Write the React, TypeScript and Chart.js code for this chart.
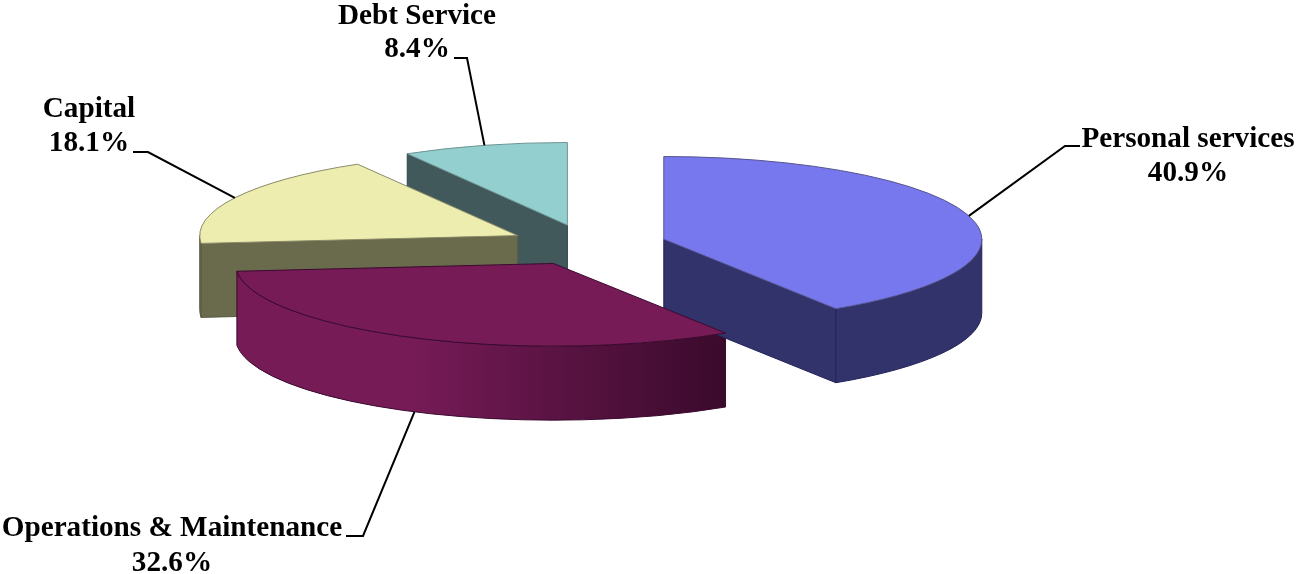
import React, { useEffect, useRef } from "react";
import { Chart, registerables } from "chart.js";

Chart.register(...registerables);

// Budget shares, clockwise from twelve o'clock.
const categories = ["Personal services", "Operations & Maintenance", "Capital", "Debt Service"];
const shares = [40.9, 32.6, 18.1, 8.4];

const topColors = ["#7878ee", "#771b57", "#ededaf", "#93cfcf"];
const wallColors = ["#33336b", "#771b57", "#6a6a4c", "#41595b"];
const wallShadeColors = ["#33336b", "#3a0a2c", "#6a6a4c", "#41595b"];
const edgeColors = ["#23235a", "#3a0a30", "#5a5a42", "#2f4648"];
const rimColors = ["#55558f", "#3a0a30", "#8a8a68", "#6f9494"];

// Leader-line bend and end points, and each label's centre and baselines.
const leaderBends = [[1065, 146], [363, 536], [148, 152], [467, 58]];
const leaderEnds = [[1080, 146], [346, 536], [133, 152], [454, 58]];
const labelCentres = [1188, 172, 89, 417];
const labelBaselines = [[147, 181], [536, 571], [117, 151], [24, 57]];

const TILT = 0.26;
const DEPTH = 74;
const EXPLODE = 79;
const RADIUS = 318;
const FONT = 'bold 29.2px "Liberation Serif", "Times New Roman", serif';

const tiltY = (y: number, cy: number) => cy + (y - cy) * TILT;

const pie3d = {
  id: "pie3d",
  // Pull every slice outward along its bisector.
  afterDatasetUpdate(chart: any) {
    for (const arc of chart.getDatasetMeta(0).data) {
      const mid = (arc.startAngle + arc.endAngle) / 2;
      arc.x += Math.cos(mid) * EXPLODE;
      arc.y += Math.sin(mid) * EXPLODE;
    }
  },
  beforeDatasetsDraw(chart: any) {
    const { ctx, chartArea } = chart;
    const cy = (chartArea.top + chartArea.bottom) / 2;
    const arcs = chart.getDatasetMeta(0).data;
    ctx.save();
    ctx.lineWidth = 1;
    ctx.lineJoin = "round";
    // Back slices first so nearer walls cover them.
    for (const i of [3, 2, 1, 0]) {
      const arc = arcs[i];
      const x = arc.x;
      const y = tiltY(arc.y, cy);
      const r = arc.outerRadius;
      const ry = r * TILT;
      const radial = (angle: number) => {
        const px = x + Math.cos(angle) * r;
        const py = y + Math.sin(angle) * ry;
        ctx.beginPath();
        ctx.moveTo(x, y);
        ctx.lineTo(px, py);
        ctx.lineTo(px, py + DEPTH);
        ctx.lineTo(x, y + DEPTH);
        ctx.closePath();
        ctx.fillStyle = wallShadeColors[i];
        ctx.strokeStyle = edgeColors[i];
        ctx.fill();
        ctx.stroke();
      };
      if (Math.cos(arc.startAngle) < -1e-6) radial(arc.startAngle);
      if (Math.cos(arc.endAngle) > 1e-6) radial(arc.endAngle);

      const from = Math.max(arc.startAngle, 0);
      const to = Math.min(arc.endAngle, Math.PI);
      if (to > from) {
        const x0 = x + Math.cos(from) * r;
        const x1 = x + Math.cos(to) * r;
        const left = Math.min(x0, x1);
        const right = Math.max(x0, x1);
        const fill = ctx.createLinearGradient(left, 0, right, 0);
        fill.addColorStop(0, wallColors[i]);
        fill.addColorStop(0.35, wallColors[i]);
        fill.addColorStop(1, wallShadeColors[i]);
        ctx.beginPath();
        ctx.ellipse(x, y, r, ry, 0, from, to);
        ctx.ellipse(x, y + DEPTH, r, ry, 0, to, from, true);
        ctx.closePath();
        ctx.fillStyle = fill;
        ctx.strokeStyle = edgeColors[i];
        ctx.fill();
        ctx.stroke();
      }
    }
    ctx.restore();

    // The library paints the round top faces through this squash.
    ctx.save();
    ctx.translate(0, cy);
    ctx.scale(1, TILT);
    ctx.translate(0, -cy);
  },
  afterDatasetsDraw(chart: any) {
    const { ctx, chartArea } = chart;
    ctx.restore();
    const cy = (chartArea.top + chartArea.bottom) / 2;
    const arcs = chart.getDatasetMeta(0).data;

    ctx.save();
    ctx.lineWidth = 1;
    arcs.forEach((arc: any, i: number) => {
      const y = tiltY(arc.y, cy);
      ctx.beginPath();
      ctx.moveTo(arc.x, y);
      ctx.ellipse(arc.x, y, arc.outerRadius, arc.outerRadius * TILT, 0, arc.startAngle, arc.endAngle);
      ctx.closePath();
      ctx.strokeStyle = rimColors[i];
      ctx.stroke();
    });

    // Leader lines run from the middle of each slice's rim to its label.
    ctx.strokeStyle = "#000";
    ctx.lineWidth = 2;
    ctx.fillStyle = "#000";
    ctx.font = FONT;
    ctx.textAlign = "center";
    ctx.textBaseline = "alphabetic";
    arcs.forEach((arc: any, i: number) => {
      const mid = (arc.startAngle + arc.endAngle) / 2;
      ctx.beginPath();
      ctx.moveTo(
        arc.x + Math.cos(mid) * arc.outerRadius,
        tiltY(arc.y, cy) + Math.sin(mid) * arc.outerRadius * TILT + (Math.sin(mid) > 0 && Math.cos(mid) < 0 ? DEPTH : 0),
      );
      ctx.lineTo(leaderBends[i][0], leaderBends[i][1]);
      ctx.lineTo(leaderEnds[i][0], leaderEnds[i][1]);
      ctx.stroke();
      ctx.fillText(categories[i], labelCentres[i], labelBaselines[i][0]);
      ctx.fillText(`${shares[i].toFixed(1)}%`, labelCentres[i], labelBaselines[i][1]);
    });
    ctx.restore();
  },
};

export default function App() {
  const canvasRef = useRef<HTMLCanvasElement>(null);

  useEffect(() => {
    const chart = new Chart(canvasRef.current as HTMLCanvasElement, {
      type: "pie",
      data: {
        labels: categories,
        datasets: [
          {
            data: shares,
            backgroundColor: topColors,
            borderWidth: 0,
            radius: RADIUS,
          } as any,
        ],
      },
      options: {
        responsive: false,
        animation: false,
        layout: { padding: { right: 121, bottom: 84 } },
        plugins: { legend: { display: false }, tooltip: { enabled: false }, title: { display: false } },
        events: [],
      },
      plugins: [pie3d],
    });
    return () => chart.destroy();
  }, []);

  return (
    <canvas
      ref={canvasRef}
      width={1297}
      height={574}
      style={{ position: "absolute", left: 0, top: 0, width: 1297, height: 574 }}
    />
  );
}
